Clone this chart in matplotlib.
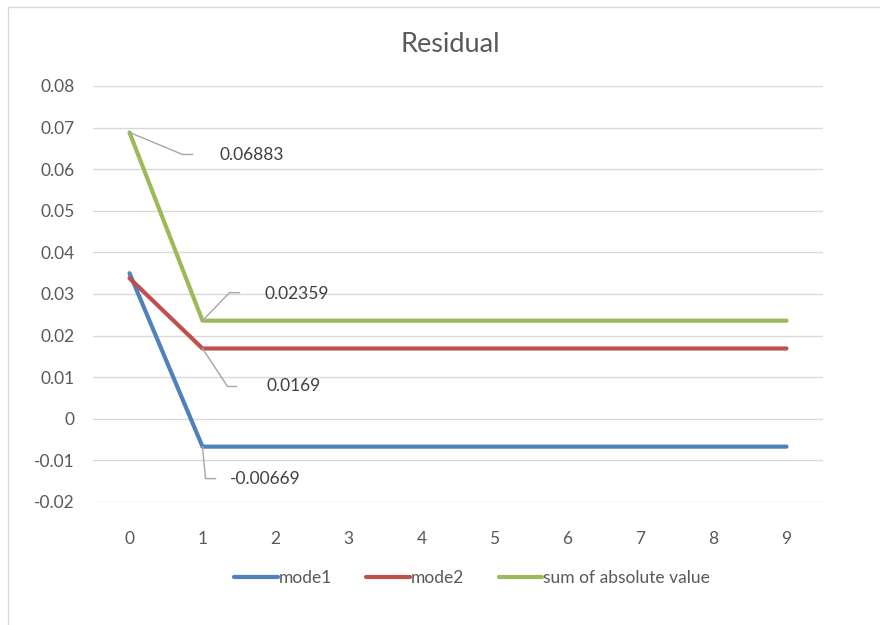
import numpy as np
import matplotlib
matplotlib.use('Agg')
import matplotlib.pyplot as plt
from matplotlib.lines import Line2D
from matplotlib.patches import Rectangle
from matplotlib.transforms import IdentityTransform

plt.rcParams['font.family'] = ['Lato', 'DejaVu Sans']

# data
steps = list(range(10))
mode1 = [0.0350] + [-0.00669] * 9
mode2 = [0.0338] + [0.0169] * 9
sum_abs = [0.06883] + [0.02359] * 9

series_names = ['mode1', 'mode2', 'sum of absolute value']
colors = ['#4F81BD', '#C0504D', '#9BBB59']

# labelled points: (series, index, text)
labels = [(sum_abs, 0, '0.06883'), (sum_abs, 1, '0.02359'),
          (mode2, 1, '0.0169'), (mode1, 1, '-0.00669')]
# leader layout in pixels: elbow, end, text offset
leader_geom = [((53, -22), (63, -22), (90, -23)),
               ((27, 28), (37, 28), (62, 27)),
               ((25, -38), (34, -38), (64, -38)),
               ((3, -32), (13, -32), (27, -32))]

fig = plt.figure(figsize=(8.8, 6.25), dpi=100)
fig.patches.append(Rectangle((8 / 880, -0.01), 1.0, 1 - 7 / 625 + 0.01,
                             transform=fig.transFigure, fill=False,
                             edgecolor='#d9d9d9', linewidth=1))
ax = fig.add_axes([93 / 880, 1 - 502 / 625, 730 / 880, 416 / 625])

for vals, name, c in zip([mode1, mode2, sum_abs], series_names, colors):
    ax.plot(steps, vals, color=c, linewidth=3, label=name,
            solid_capstyle='round', solid_joinstyle='round', zorder=3)

ax.set_xlim(-0.5, 9.5)
ax.set_ylim(-0.02, 0.08)
ax.set_xticks(steps)
ax.set_yticks(np.arange(-0.02, 0.081, 0.01))
ax.set_yticklabels(['%g' % round(v, 2) for v in np.arange(-0.02, 0.081, 0.01)])
ax.grid(axis='y', color='#d9d9d9', linewidth=1)
ax.set_axisbelow(True)
for s in ax.spines.values():
    s.set_visible(False)
ax.tick_params(length=0, labelsize=12.5, labelcolor='#595959')
ax.tick_params(axis='x', pad=21)
ax.tick_params(axis='y', pad=13)

fig.text(450 / 880, 1 - 45 / 625, 'Residual', ha='center', va='center',
         fontsize=19.5, color='#595959')

fig.canvas.draw()
for (vals, i, txt), (elbow, end, toff) in zip(labels, leader_geom):
    bx, by = ax.transData.transform((steps[i], vals[i]))
    xs = [bx, bx + elbow[0], bx + end[0]]
    ys = [by, by + elbow[1], by + end[1]]
    fig.add_artist(Line2D(xs, ys, transform=IdentityTransform(),
                          color='#a6a6a6', linewidth=1))
    fig.text((bx + toff[0]) / 880, (by + toff[1]) / 625, txt,
             ha='left', va='center', fontsize=12.5, color='#404040')

fig.legend(loc='center', bbox_to_anchor=(472 / 880, 1 - 578 / 625), ncol=3,
           frameon=False, fontsize=12.5, handlelength=2.5, handletextpad=0.05,
           columnspacing=2.0, labelcolor='#595959')

fig.savefig('out.png', dpi=100)
